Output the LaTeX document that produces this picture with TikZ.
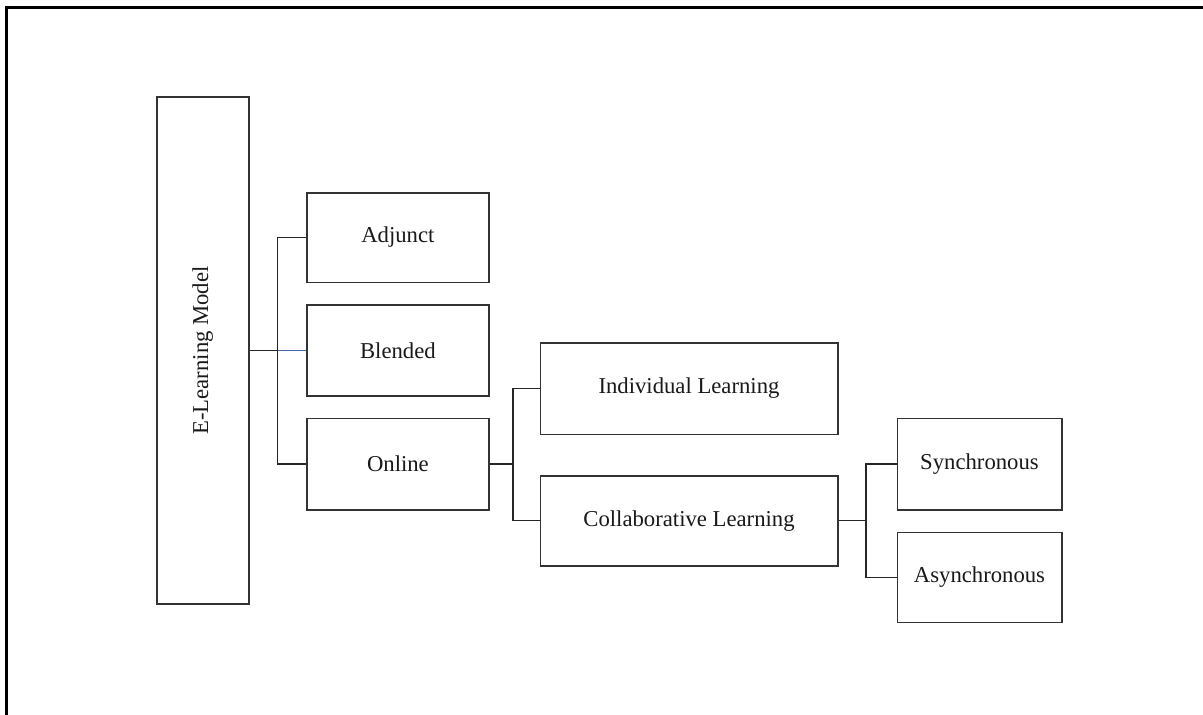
\documentclass[tikz,border=0pt]{standalone}
\usepackage{fontspec}
\setmainfont{Liberation Serif}
\begin{document}
\begin{tikzpicture}[x=1pt,y=-1pt,
  box/.style={draw=black!80, line width=1.6pt, inner sep=0pt, rectangle,
    font=\fontsize{22.7}{27}\selectfont, text=black!90},
  link/.style={draw=black!85, line width=1.5pt},
  bluelink/.style={draw={rgb,255:red,70;green,105;blue,170}, line width=1.5pt},
  frameline/.style={draw=black, line width=3pt}]
  \useasboundingbox (0,0) rectangle (1203,715);
  \clip (0,0) rectangle (1203,715);
  % outer frame
  \draw[frameline] (1215,7.3) -- (6.7,7.3) -- (6.7,725);

  % boxes
  \node[box, minimum width=92pt, minimum height=507pt] (elm) at (202.7,350.5)
    {\rotatebox{90}{E-Learning Model}};
  \node[box, minimum width=182.3pt, minimum height=89.6pt] (adj) at (397.9,237.5) {Adjunct};
  \node[box, minimum width=182.3pt, minimum height=91pt] (bld) at (397.9,350.5) {Blended};
  \node[box, minimum width=182.3pt, minimum height=91.7pt] (onl) at (397.9,464.2) {Online};
  \node[box, minimum width=297.4pt, minimum height=91.6pt] (ind) at (689,388.5) {Individual Learning};
  \node[box, minimum width=297.4pt, minimum height=90pt] (col) at (689,520.7) {Collaborative Learning};
  \node[box, minimum width=164.4pt, minimum height=91.7pt] (syn) at (979.5,464.2) {Synchronous};
  \node[box, minimum width=164.4pt, minimum height=90pt] (asy) at (979.5,577.3) {Asynchronous};

  % junction points
  \coordinate (j1) at ([xshift=-28.4pt]bld.west);
  \coordinate (j2) at ([xshift=-26.3pt]ind.west |- onl.east);
  \coordinate (j3) at ([xshift=-30.6pt]syn.west |- col.east);

  % connectors
  \draw[link] (elm.east) -- (j1);
  \draw[bluelink] (j1) -- (bld.west);
  \draw[link] (adj.west) -- (adj.west -| j1) |- (onl.west);

  \draw[link] (onl.east) -- (j2);
  \draw[link] (ind.west) -- (ind.west -| j2) |- (col.west);

  \draw[link] (col.east) -- (j3);
  \draw[link] (syn.west) -- (syn.west -| j3) |- (asy.west);
\end{tikzpicture}
\end{document}
